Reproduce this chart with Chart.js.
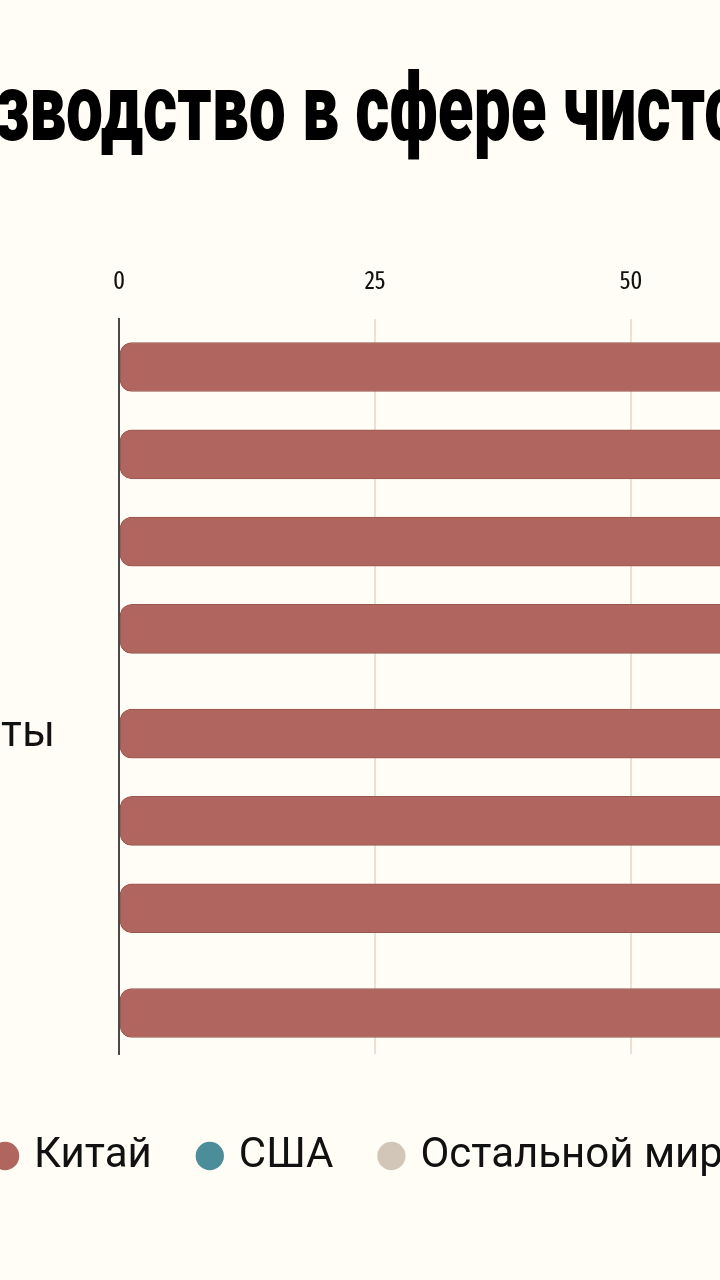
<!DOCTYPE html>
<html lang="ru">
<head>
<meta charset="utf-8">
<title>Производство в сфере чистой энергии</title>
<script src="https://cdn.jsdelivr.net/npm/chart.js@4.4.1/dist/chart.umd.min.js"></script>
<style>
  html, body { margin: 0; padding: 0; width: 720px; height: 1280px; overflow: hidden; background: #fffdf6; }
  #title {
    position: absolute; top: 60px; left: 0; margin: 0;
    white-space: nowrap; font: 900 95px Roboto, sans-serif; line-height: 95px;
    color: #000; transform-origin: 0 0;
  }
  #wrap { position: absolute; left: -463px; top: 0; width: 1646px; height: 1280px; }
</style>
</head>
<body>
<h1 id="title">Производство в сфере чистой энергии</h1>
<div id="wrap"><canvas id="chart"></canvas></div>
<script>
// rows, top to bottom (solar, batteries, hydrogen)
const categories = ["Поликремний", "Пластины", "Ячейки", "Модули",
  "Батарейные элементы", "Катоды", "Аноды", "Электролизёры"];
const rowPos = [0, 1, 2, 3, 4.2, 5.2, 6.2, 7.4];

const seriesNames = ["Китай", "США", "Остальной мир"];
const chinaShare = [79, 97, 85, 75, 75, 70, 85, 63];
const usShare = [3, 0, 1, 3, 7, 1, 1, 5];
const restShare = [18, 3, 14, 22, 18, 29, 14, 32];

const xTicks = [0, 25, 50, 75, 100];

const palette = ["#b0655e", "#4b8d99", "#d2c6b8"];
const edges = ["#9a5750", "#3d7580", "#b8ab9c"];

// squeeze the headline so it reads like a condensed black face
const measure = document.createElement("canvas").getContext("2d");
function textWidth(text, font) {
  measure.font = font;
  return measure.measureText(text).width;
}
const title = document.getElementById("title");
const titleFont = "900 95px Roboto";
const head = textWidth("Прои", titleFont);
const seen = textWidth("зводство в сфере чист", titleFont);
const squeeze = 710 / seen;
title.style.transform = `scaleX(${squeeze})`;
title.style.left = (-5 - head * squeeze) + "px";

// row labels are left aligned, only the longest one reaches the visible strip
const labelSize = 44 * 478 / textWidth(categories[4], '44px "Noto Sans"');

const radii = [
  { topLeft: 12, bottomLeft: 12, topRight: 0, bottomRight: 0 },
  0,
  { topLeft: 0, bottomLeft: 0, topRight: 12, bottomRight: 12 }
];

const series = [chinaShare, usShare, restShare];

new Chart(document.getElementById("chart"), {
  type: "bar",
  data: {
    datasets: series.map((vals, i) => ({
      label: seriesNames[i],
      data: vals.map((v, j) => ({ x: v, y: rowPos[j] })),
      backgroundColor: palette[i],
      borderColor: edges[i],
      borderWidth: 1,
      borderSkipped: false,
      borderRadius: radii[i],
      barThickness: 49
    }))
  },
  options: {
    indexAxis: "y",
    responsive: true,
    maintainAspectRatio: false,
    animation: false,
    layout: { padding: { left: 40, right: 40, top: 245, bottom: 93 } },
    scales: {
      x: {
        position: "top",
        stacked: true,
        min: 0,
        max: 100,
        afterBuildTicks: scale => { scale.ticks = xTicks.map(v => ({ value: v })); },
        ticks: {
          padding: 22,
          color: "#111",
          font: { family: "'Fira Sans Extra Condensed', 'Roboto Condensed', Roboto", size: 25 }
        },
        grid: {
          drawTicks: false,
          lineWidth: 2,
          color: ctx => (ctx.tick && ctx.tick.value === 0) ? "rgba(0,0,0,0)" : "#eee0d3"
        },
        border: { display: false }
      },
      y: {
        type: "linear",
        reverse: true,
        stacked: true,
        offset: false,
        min: -0.55,
        max: 7.87,
        afterBuildTicks: scale => { scale.ticks = rowPos.map(v => ({ value: v })); },
        afterFit: scale => { scale.width = 542; },
        ticks: {
          crossAlign: "far",
          padding: 32,
          color: "#111",
          font: { family: "'Noto Sans'", size: labelSize },
          callback: v => categories[rowPos.indexOf(v)] || ""
        },
        grid: { display: false, drawTicks: false },
        border: { display: true, color: "#4f4747", width: 2 }
      }
    },
    plugins: {
      tooltip: { enabled: false },
      legend: {
        position: "bottom",
        title: { display: true, text: "", font: { size: 10 }, padding: { top: 19, bottom: 0 } },
        labels: {
          usePointStyle: true,
          pointStyle: "circle",
          boxWidth: 16,
          boxHeight: 20,
          padding: 50,
          color: "#111",
          font: { family: "Roboto", size: 42 },
          generateLabels: chart => Chart.defaults.plugins.legend.labels.generateLabels(chart)
            .map(item => ({ ...item, lineWidth: 0 }))
        }
      }
    }
  }
});
</script>
</body>
</html>
